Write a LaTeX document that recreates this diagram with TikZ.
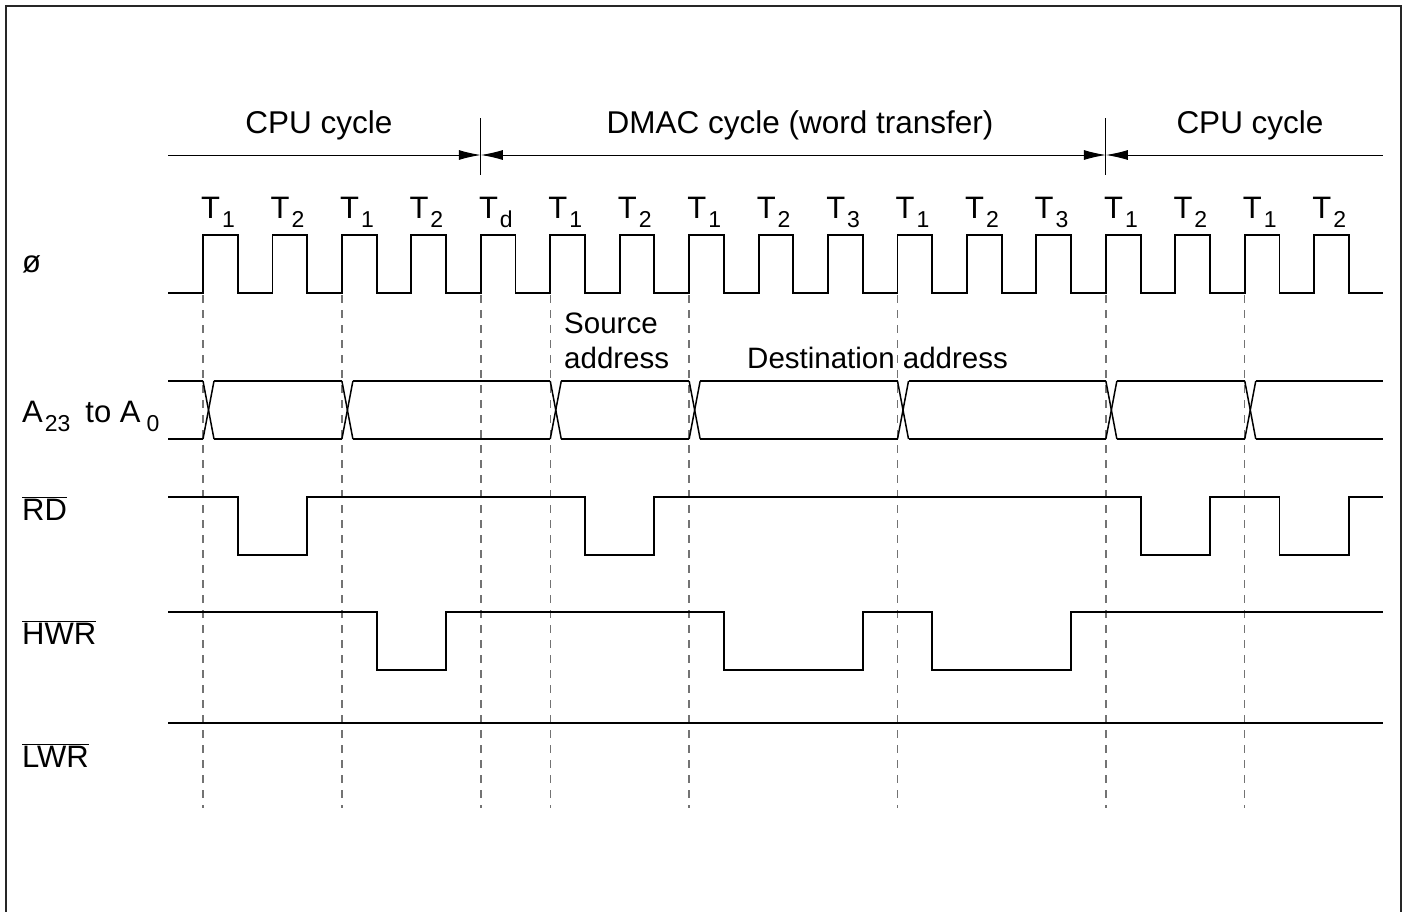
\documentclass[tikz,border=0pt]{standalone}
\usepackage{fontspec}
\setmainfont{Liberation Sans}
\usetikzlibrary{arrows.meta}
\newcommand\sbs[1]{\raisebox{-9pt}{\fontsize{23}{23}\selectfont #1}}
\newcommand\ovl[1]{$\overline{\mbox{#1}}$}
\begin{document}
\begin{tikzpicture}[x=1pt,y=-1pt,
  sig/.style={line width=1.9pt,line join=miter},
  dsh/.style={line width=1.4pt,black!55,dash pattern=on 8pt off 7pt},
  frame/.style={line width=2.4pt,black!85},
  lbl/.style={inner sep=0pt,font=\fontsize{29.5}{36}\selectfont},
  ttl/.style={inner sep=0pt,font=\fontsize{31.5}{36}\selectfont},
  nm/.style={inner sep=0pt,font=\fontsize{31}{36}\selectfont},
  dim/.style={line width=1pt}]
\useasboundingbox (0,0) rectangle (1407,911);
\draw[frame] (6,925) -- (6,6) -- (1401,6) -- (1401,925);
\def\P{69.45}
% cycle labels and dimension arrows
\node[ttl,anchor=base] (cpu1) at (319,133) {CPU cycle};
\node[ttl,anchor=base] (dmac) at (800,133) {DMAC cycle (word transfer)};
\node[ttl,anchor=base] (cpu2) at (1250,133) {CPU cycle};
\coordinate (a0) at (168,155);
\coordinate (a1) at (480.8,155);
\coordinate (a2) at (1105.85,155);
\coordinate (a3) at (1383,155);
\coordinate (k1t) at (480.8,118);
\coordinate (k1b) at (480.8,175);
\coordinate (k2t) at (1105.85,118);
\coordinate (k2b) at (1105.85,175);
\draw[dim] (k1t) -- (k1b);
\draw[dim] (k2t) -- (k2b);
\draw[dim,-{Latex[length=22pt,width=10pt]}] (a0) -- (a1);
\draw[dim,{Latex[length=22pt,width=10pt]}-{Latex[length=22pt,width=10pt]}] (a1) -- (a2);
\draw[dim,{Latex[length=22pt,width=10pt]}-] (a2) -- (a3);
% state labels
\foreach \k/\s in {0/1,1/2,2/1,3/2,4/d,5/1,6/2,7/1,8/2,9/3,10/1,11/2,12/3,13/1,14/2,15/1,16/2}
  \node[nm,anchor=base west] (t\k) at ({201+\k*\P},218) {T\kern2pt\sbs{\s}};
% signal names
\node[nm,anchor=base west] (phi) at (22,272) {ø};
\node[nm,anchor=base west] (addr) at (22,422) {A\kern2pt\sbs{23}\hspace{15pt}to A\kern6pt\sbs{0}};
\node[nm,anchor=base west] (rd) at (22,520) {\ovl{RD}};
\node[nm,anchor=base west] (hwr) at (22,644) {\ovl{HWR}};
\node[nm,anchor=base west] (lwr) at (22,767) {\ovl{LWR}};
\node[lbl,anchor=base west] (src1) at (564,333) {Source};
\node[lbl,anchor=base west] (src2) at (564,368) {address};
\node[lbl,anchor=base west] (dst) at (747,368) {Destination address};
% dashed guides
\foreach \k in {0,2,4,5,7,10,13,15}
  \draw[dsh] ({203+\k*\P},295) -- ({203+\k*\P},808);
% clock
\draw[sig] (168,293) \foreach \k in {0,...,16}{ -- ({203+\k*\P},293) -- ({203+\k*\P},235) -- ({203+(\k+0.5)*\P},235) -- ({203+(\k+0.5)*\P},293)} -- (1383,293);
% address bus
\foreach \e in {203,341.9,550.25,689.15,897.5,1105.85,1244.75}{
  \draw[sig,line width=1.5pt] (\e,381) -- ({\e+11},439);
  \draw[sig,line width=1.5pt] (\e,439) -- ({\e+11},381);
}
\foreach \a/\b in {157/203,203/341.9,341.9/550.25,550.25/689.15,689.15/897.5,897.5/1105.85,1105.85/1244.75,1244.75/1383}{
  \draw[sig] ({\a+11},381) -- (\b,381);
  \draw[sig] ({\a+11},439) -- (\b,439);
}
% RD
\draw[sig] (168,497) -- (237.73,497) -- (237.73,555) -- (307.18,555) -- (307.18,497)
  -- (584.98,497) -- (584.98,555) -- (654.43,555) -- (654.43,497)
  -- (1140.58,497) -- (1140.58,555) -- (1210.03,555) -- (1210.03,497)
  -- (1279.48,497) -- (1279.48,555) -- (1348.93,555) -- (1348.93,497) -- (1383,497);
% HWR
\draw[sig] (168,612) -- (376.63,612) -- (376.63,670) -- (446.08,670) -- (446.08,612)
  -- (723.88,612) -- (723.88,670) -- (862.78,670) -- (862.78,612)
  -- (932.23,612) -- (932.23,670) -- (1071.13,670) -- (1071.13,612) -- (1383,612);
% LWR
\draw[sig] (168,723) -- (1383,723);
\end{tikzpicture}
\end{document}
